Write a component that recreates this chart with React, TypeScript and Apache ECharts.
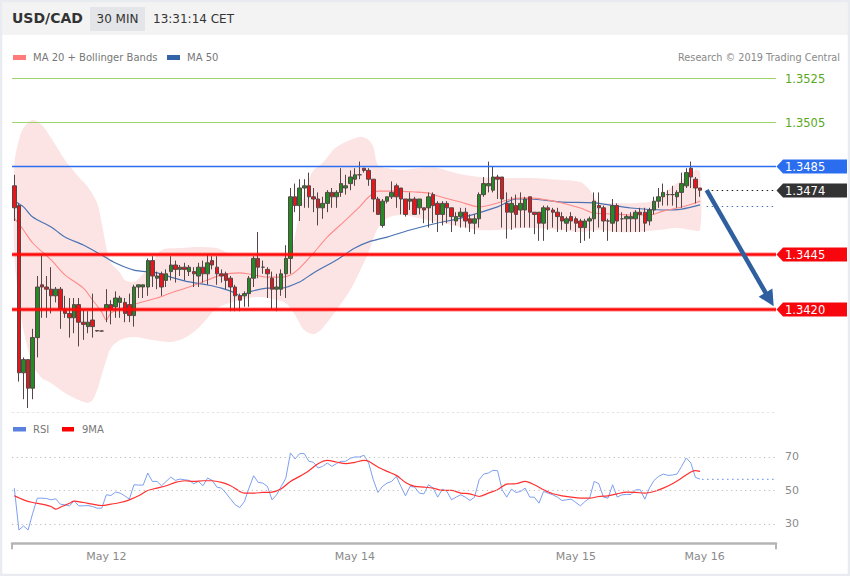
import React, { useEffect, useRef } from "react";
import * as echarts from "echarts";

const FONT = '"DejaVu Sans", Verdana, sans-serif';
const SLOTS = 166;
const slotNames = Array.from({ length: SLOTS }, (_, i) => String(i));
const dateLabels: [number, string][] = [
  [20, "May 12"],
  [74, "May 14"],
  [122, "May 15"],
  [150, "May 16"],
];

const priceMin = 1.3373;
const priceMax = 1.3529;

// candles: [open, close, low, high]
const candlesA = [
  [1.3476, 1.3466, 1.346, 1.3481], [1.3467, 1.3391, 1.3387, 1.3468], [1.3391, 1.3397, 1.3379, 1.3398],
  [1.3397, 1.3384, 1.3375, 1.3397], [1.3384, 1.3407, 1.3379, 1.3411], [1.3407, 1.343, 1.3398, 1.3435],
  [1.3431, 1.343, 1.3416, 1.3445], [1.343, 1.3429, 1.3416, 1.3435], [1.3429, 1.3426, 1.3418, 1.3439],
  [1.3426, 1.3429, 1.3423, 1.343], [1.3429, 1.342, 1.3411, 1.343], [1.342, 1.3418, 1.3416, 1.3426],
  [1.3418, 1.3416, 1.3407, 1.3425], [1.3416, 1.3422, 1.3409, 1.3425], [1.3422, 1.3414, 1.3403, 1.3425],
  [1.3414, 1.3413, 1.3406, 1.342], [1.3412, 1.3414, 1.3409, 1.3419], [1.3415, 1.3412, 1.3407, 1.3427],
  [1.34102, 1.341, 1.34098, 1.34104], [1.341, 1.341, 1.34098, 1.34102], [1.342, 1.3422, 1.3414, 1.3429],
  [1.3422, 1.342, 1.3413, 1.3424], [1.3421, 1.3425, 1.3416, 1.3428], [1.3423, 1.3425, 1.3416, 1.3426],
  [1.3423, 1.3418, 1.3414, 1.3425], [1.3422, 1.3417, 1.3414, 1.3427], [1.3417, 1.343, 1.3412, 1.3431],
  [1.343, 1.3431, 1.3425, 1.3431], [1.343, 1.3431, 1.3425, 1.3431], [1.343, 1.3442, 1.3426, 1.3443],
  [1.3442, 1.3435, 1.343, 1.3444], [1.3434, 1.3435, 1.3429, 1.3437], [1.3436, 1.343, 1.3426, 1.3437],
  [1.3433, 1.3436, 1.343, 1.3438], [1.3437, 1.344, 1.3433, 1.3444], [1.344, 1.3438, 1.3432, 1.3442],
  [1.3438, 1.3439, 1.3435, 1.344], [1.3439, 1.3438, 1.3433, 1.3441], [1.3437, 1.3439, 1.3435, 1.344],
  [1.3437, 1.3436, 1.343, 1.3439], [1.3435, 1.3439, 1.343, 1.3441], [1.3439, 1.3436, 1.3432, 1.3442],
  [1.3436, 1.3441, 1.3431, 1.3445], [1.3442, 1.344, 1.3438, 1.3444], [1.3439, 1.3436, 1.3431, 1.3444],
  [1.3436, 1.3435, 1.3432, 1.3438], [1.3436, 1.3433, 1.3429, 1.3437], [1.3434, 1.343, 1.3419, 1.3435],
  [1.343, 1.3426, 1.3419, 1.3431], [1.3426, 1.3424, 1.3419, 1.3427],
];
const candlesB = [
  [1.3426, 1.3427, 1.3421, 1.3428], [1.3427, 1.3434, 1.3421, 1.3435], [1.3434, 1.3443, 1.343, 1.3444],
  [1.3443, 1.3439, 1.3434, 1.3455], [1.3439, 1.3439, 1.3436, 1.3442], [1.3438, 1.3436, 1.3425, 1.3439],
  [1.3434, 1.3429, 1.342, 1.3437], [1.3429, 1.343, 1.3419, 1.3436], [1.3429, 1.3436, 1.3426, 1.3438],
  [1.3436, 1.3443, 1.3425, 1.3449], [1.3443, 1.3471, 1.3436, 1.3475], [1.3471, 1.3467, 1.3464, 1.3477],
  [1.3467, 1.3475, 1.346, 1.3479], [1.3475, 1.3476, 1.3466, 1.3479], [1.3476, 1.3471, 1.3466, 1.3482],
  [1.3471, 1.347, 1.3464, 1.3475], [1.347, 1.3466, 1.3458, 1.3473], [1.3466, 1.3468, 1.3461, 1.3471],
  [1.3468, 1.3473, 1.3464, 1.3474], [1.3473, 1.3471, 1.3466, 1.3475], [1.3471, 1.3473, 1.3466, 1.3474],
  [1.3473, 1.3477, 1.3471, 1.3484], [1.3475, 1.3476, 1.3472, 1.3481], [1.3477, 1.348, 1.3474, 1.3483],
  [1.3479, 1.3481, 1.3476, 1.3484], [1.3481, 1.3481, 1.3479, 1.3487], [1.3484, 1.3483, 1.3482, 1.3484],
  [1.3483, 1.3479, 1.3476, 1.3484], [1.3479, 1.347, 1.3464, 1.3479], [1.347, 1.3463, 1.3463, 1.3471],
  [1.3458, 1.3469, 1.3457, 1.347], [1.3469, 1.3471, 1.3468, 1.3471], [1.3471, 1.3473, 1.347, 1.3478],
  [1.3476, 1.3471, 1.3466, 1.3477], [1.3475, 1.347, 1.3463, 1.3475], [1.347, 1.3463, 1.3462, 1.347],
  [1.3469, 1.347, 1.3465, 1.3473], [1.347, 1.3463, 1.3463, 1.3471], [1.3466, 1.347, 1.3463, 1.347],
  [1.3466, 1.3465, 1.3459, 1.3466], [1.3466, 1.3471, 1.3457, 1.3473], [1.3472, 1.3467, 1.3459, 1.3473],
  [1.3468, 1.3463, 1.3455, 1.3469], [1.3463, 1.3468, 1.3458, 1.3469], [1.3468, 1.3466, 1.3459, 1.3469],
  [1.3466, 1.3462, 1.3455, 1.3466], [1.346, 1.3462, 1.3458, 1.3464], [1.3462, 1.3464, 1.3457, 1.3466],
  [1.3464, 1.346, 1.3457, 1.3466], [1.3461, 1.3459, 1.3455, 1.3463],
];
const candlesC = [
  [1.3459, 1.3461, 1.3454, 1.3463], [1.3461, 1.3472, 1.3457, 1.3473], [1.3472, 1.3477, 1.3471, 1.348],
  [1.3476, 1.3477, 1.3473, 1.3487], [1.3474, 1.348, 1.3473, 1.3485], [1.348, 1.3479, 1.347, 1.3481],
  [1.348, 1.347, 1.3457, 1.348], [1.3468, 1.3464, 1.3452, 1.3473], [1.3464, 1.3468, 1.3456, 1.3471],
  [1.3467, 1.3463, 1.3457, 1.3472], [1.3465, 1.3468, 1.3457, 1.3473], [1.3465, 1.347, 1.3457, 1.3471],
  [1.3471, 1.3464, 1.3457, 1.3471], [1.3464, 1.3463, 1.3454, 1.3464], [1.3464, 1.3459, 1.3451, 1.3464],
  [1.3459, 1.3466, 1.3451, 1.3467], [1.3466, 1.3465, 1.3456, 1.3467], [1.3465, 1.3464, 1.3457, 1.3466],
  [1.3464, 1.3462, 1.3455, 1.3466], [1.3462, 1.346, 1.3456, 1.3464], [1.3459, 1.3461, 1.3455, 1.3462],
  [1.3462, 1.346, 1.3456, 1.3464], [1.3461, 1.3459, 1.3455, 1.3462], [1.346, 1.3457, 1.345, 1.3461],
  [1.3457, 1.346, 1.3451, 1.3461], [1.346, 1.3461, 1.3452, 1.3462], [1.3461, 1.3469, 1.3455, 1.3473],
  [1.3467, 1.3466, 1.3457, 1.3473], [1.3466, 1.346, 1.3455, 1.3467], [1.346, 1.346, 1.3451, 1.3461],
  [1.3459, 1.3467, 1.3455, 1.347], [1.3467, 1.346, 1.3455, 1.3468], [1.3461, 1.3461, 1.3455, 1.3464],
  [1.3461, 1.3462, 1.3455, 1.3463], [1.3461, 1.3462, 1.3455, 1.3464], [1.3461, 1.3464, 1.3455, 1.3465],
  [1.3464, 1.3463, 1.3455, 1.3466], [1.3464, 1.3459, 1.3455, 1.3466], [1.346, 1.3465, 1.3458, 1.3466],
  [1.3465, 1.3469, 1.3463, 1.3471], [1.3469, 1.3471, 1.3466, 1.3475], [1.3471, 1.3473, 1.3467, 1.3477],
  [1.3472, 1.3472, 1.3467, 1.3474], [1.3472, 1.3472, 1.3467, 1.3476], [1.3471, 1.3473, 1.3466, 1.3474],
  [1.3473, 1.3477, 1.3466, 1.3482], [1.3476, 1.3482, 1.3475, 1.3484], [1.3484, 1.348, 1.3475, 1.3487],
  [1.3479, 1.3475, 1.3468, 1.348], [1.3475, 1.3474, 1.3471, 1.3475],
];

// indicator readings [slot, value]
const ma20Points = [
  [0, 1.34613], [2, 1.34559], [4, 1.345], [8, 1.34423], [11, 1.34355], [15, 1.34295], [17, 1.34241],
  [19, 1.34186], [20, 1.3415], [21, 1.34182], [24, 1.34209], [27, 1.34227], [31, 1.3425], [34, 1.34273],
  [38, 1.343], [42, 1.34332], [45, 1.34355], [49, 1.34364], [51, 1.34359], [55, 1.34345], [58, 1.34345],
  [60, 1.34355], [62, 1.34386], [65, 1.34454], [68, 1.34527], [72, 1.34604], [75, 1.34664], [77, 1.34709],
  [79, 1.34736], [83, 1.34736], [87, 1.34732], [90, 1.34727], [92, 1.34714], [97, 1.34686], [101, 1.34664],
  [105, 1.34682], [108, 1.347], [112, 1.34705], [116, 1.34695], [119, 1.34682], [123, 1.34659],
  [126, 1.34636], [130, 1.34632], [134, 1.34627], [138, 1.34627], [141, 1.34645], [145, 1.34664],
  [148, 1.34682], [149, 1.34691],
];
const ma50Points = [
  [0, 1.34691], [2, 1.34664], [4, 1.34618], [8, 1.34573], [11, 1.34527], [15, 1.34491], [19, 1.34445],
  [22, 1.34409], [26, 1.34377], [31, 1.34364], [34, 1.34345], [38, 1.34323], [42, 1.34309], [45, 1.34295],
  [48, 1.34273], [49, 1.34259], [51, 1.34277], [55, 1.34295], [58, 1.34295], [62, 1.34323], [65, 1.34364],
  [70, 1.34423], [74, 1.34477], [77, 1.34505], [81, 1.34527], [86, 1.34559], [92, 1.34591], [97, 1.34613],
  [105, 1.34664], [109, 1.347], [112, 1.347], [119, 1.34686], [126, 1.34682], [134, 1.34659],
  [141, 1.3465], [145, 1.34654], [149, 1.34673],
];
const bandUpper = [
  [0, 1.34855], [1, 1.34968], [2, 1.35023], [4, 1.35059], [6, 1.35036], [8, 1.34977], [11, 1.34877],
  [14, 1.348], [16, 1.34755], [18, 1.34682], [19, 1.34591], [20, 1.34481], [21, 1.34409], [23, 1.34364],
  [24, 1.34332], [26, 1.34323], [28, 1.34359], [30, 1.34413], [32, 1.34468], [36, 1.34477], [40, 1.34482],
  [44, 1.34477], [46, 1.34459], [49, 1.34441], [53, 1.34445], [58, 1.34445], [60, 1.34454], [61, 1.34536],
  [62, 1.34645], [63, 1.34718], [64, 1.34786], [65, 1.34832], [67, 1.34864], [70, 1.34936], [75, 1.34982],
  [77, 1.34968], [78, 1.34936], [79, 1.34855], [81, 1.34841], [84, 1.34832], [88, 1.34841], [92, 1.34841],
  [95, 1.34823], [98, 1.34809], [101, 1.348], [105, 1.34795], [112, 1.34795], [119, 1.34786],
  [123, 1.34777], [125, 1.34741], [127, 1.34686], [131, 1.34682], [135, 1.34682], [140, 1.34695],
  [142, 1.34741], [146, 1.348], [148, 1.34832], [149, 1.34823],
];
const bandLower = [
  [0, 1.34445], [1, 1.34241], [2, 1.34104], [4, 1.33945], [6, 1.33886], [8, 1.33864], [11, 1.33818],
  [14, 1.33786], [16, 1.33773], [17, 1.33786], [18, 1.33832], [19, 1.339], [20, 1.33968], [21, 1.34023],
  [23, 1.34059], [26, 1.34073], [30, 1.34059], [34, 1.3405], [37, 1.34068], [40, 1.34114], [42, 1.34159],
  [44, 1.34204], [49, 1.34241], [53, 1.34255], [57, 1.34241], [59, 1.34227], [61, 1.34173], [63, 1.34104],
  [65, 1.34086], [67, 1.34114], [70, 1.34195], [73, 1.34286], [75, 1.34368], [77, 1.34459], [79, 1.34568],
  [81, 1.34613], [84, 1.34627], [88, 1.34613], [92, 1.34595], [97, 1.34573], [101, 1.34559],
  [105, 1.34559], [112, 1.34568], [119, 1.34559], [123, 1.3455], [127, 1.34559], [131, 1.3455],
  [135, 1.3455], [140, 1.34559], [144, 1.34568], [147, 1.34559], [149, 1.34559],
];

// horizontal levels
const levelPrices = [1.3525, 1.3505, 1.3485, 1.3474, 1.3445, 1.342, 1.34668];
const levelKinds = ["target", "target", "resist", "last", "pivot", "pivot", "ma"];
const levelStart = [0, 0, 0, 150, 0, 0, 150];

const arrowStart = [150, 1.3474];
const arrowEnd = [165, 1.34212];

// RSI panel
const rsiValues = [
  51.4, 26.4, 28.8, 26.4, 36.4, 45.4, 45.4, 45.2, 44.4, 45.0, 41.8, 41.4, 40.8, 43.8, 40.8, 40.8, 41.0, 40.4,
  39.4, 39.4, 47.4, 47.0, 49.0, 48.4, 46.8, 44.8, 53.4, 53.2, 53.2, 60.4, 55.4, 55.4, 52.8, 55.4, 58.0, 56.0,
  56.8, 56.4, 56.0, 54.0, 55.4, 52.8, 57.4, 56.0, 52.0, 51.4, 48.4, 44.8, 41.4, 39.8, 43.4, 51.4, 58.8, 54.8,
  54.4, 52.4, 44.4, 47.4, 52.4, 57.4, 72.4, 68.8, 72.0, 72.0, 67.4, 66.8, 63.4, 64.4, 66.4, 64.4, 66.0, 67.4,
  67.4, 69.2, 70.0, 70.0, 71.0, 66.4, 56.4, 48.8, 52.4, 54.4, 55.4, 58.4, 52.4, 46.8, 52.4, 52.0, 48.4, 48.0,
  53.4, 51.4, 46.0, 50.8, 49.4, 44.4, 46.0, 47.4, 46.0, 44.0, 46.0, 56.4, 59.8, 60.4, 62.0, 61.8, 50.4, 46.0,
  50.8, 48.8, 49.4, 51.4, 46.0, 46.0, 42.4, 49.4, 48.4, 47.4, 46.0, 44.0, 44.4, 44.8, 42.8, 40.8, 43.4, 45.4,
  55.4, 54.0, 46.0, 45.4, 53.4, 46.0, 47.4, 47.6, 47.6, 50.4, 50.4, 44.8, 51.4, 56.0, 58.4, 59.8, 59.0, 59.2,
  59.8, 64.4, 69.4, 66.4, 57.8, 56.8,
];
const rsiMaPoints = [
  [0, 46.8], [2, 44.4], [4, 42.8], [6, 41.8], [8, 40.4], [9, 38.8], [10, 40], [12, 42.4], [13, 43.6], [15, 42.8],
  [17, 41.8], [19, 41], [21, 41.8], [23, 42.8], [25, 44.4], [27, 46.8], [29, 50], [31, 51.4], [33, 52.8],
  [35, 54.8], [37, 55.8], [39, 55.4], [41, 55.8], [43, 55.8], [45, 54.8], [47, 52.8], [49, 49.4], [50, 48.4],
  [52, 48.4], [54, 48.8], [56, 49], [58, 51], [60, 55.4], [62, 58.4], [64, 61.8], [66, 66], [68, 68], [70, 67],
  [72, 66], [74, 66.8], [76, 68], [77, 67.4], [79, 64], [81, 61.4], [83, 59], [85, 54.8], [87, 52.4], [89, 52],
  [91, 51.4], [93, 50], [95, 50], [97, 48.4], [99, 48], [101, 46.4], [103, 48.4], [105, 50.4], [107, 53.8],
  [109, 54], [111, 55.4], [113, 53.4], [115, 50.4], [117, 48], [119, 46.8], [121, 46], [123, 45.4], [125, 45.4],
  [127, 46.4], [129, 46.8], [131, 48], [133, 49], [135, 48.8], [137, 48.4], [139, 49.4], [141, 51.4], [143, 54],
  [145, 57.4], [147, 61], [148, 61.8], [149, 61.4],
];
const rsiLevels = [30, 50, 70];
const rsiTail = [149, 56.6];

const sparse = (pts: number[][]) => {
  const a: (number | null)[] = new Array(SLOTS).fill(null);
  pts.forEach(([i, v]) => {
    a[i] = v;
  });
  return a;
};

const labelMap = new Map<number, string>(dateLabels);

function buildOption() {
  const candles = [...candlesA, ...candlesB, ...candlesC];
  return {
    animation: false,
    backgroundColor: "#ffffff",
    textStyle: { fontFamily: FONT },
    grid: [
      { left: 12, top: 69.2, width: 764, height: 343.2 },
      { left: 12, top: 437.7, width: 764, height: 105.5 },
    ],
    xAxis: [
      {
        type: "category",
        gridIndex: 0,
        data: slotNames,
        boundaryGap: true,
        axisLabel: { show: false },
        axisTick: { show: false },
        axisLine: { show: true, lineStyle: { color: "#e6e6e6", type: [2, 3] } },
        splitLine: { show: false },
      },
      {
        type: "category",
        gridIndex: 1,
        data: slotNames,
        boundaryGap: true,
        axisTick: { show: false },
        axisLine: { show: true, lineStyle: { color: "#b5b5b5", width: 2.5 } },
        axisLabel: {
          interval: (i: number) => labelMap.has(i),
          formatter: (v: string) => labelMap.get(Number(v)) ?? "",
          color: "#8a8a8a",
          fontSize: 11,
          margin: 8,
          fontFamily: FONT,
        },
        splitLine: { show: false },
      },
    ],
    yAxis: [
      { type: "value", gridIndex: 0, min: priceMin, max: priceMax, show: false },
      { type: "value", gridIndex: 1, min: 18.5, max: 81.5, show: false },
    ],
    graphic: [
      { type: "rect", shape: { x: 0, y: 0, width: 850, height: 35 }, style: { fill: "#f3f3f3" }, silent: true },
      {
        type: "rect",
        shape: { x: 1, y: 1, width: 848, height: 574 },
        style: { fill: "none", stroke: "#e8ecf0", lineWidth: 2.5 },
        silent: true,
      },
      {
        type: "text",
        x: 12,
        y: 18,
        style: { text: "USD/CAD", fill: "#333333", fontSize: 14, fontWeight: "bold", fontFamily: FONT, verticalAlign: "middle" },
      },
      { type: "rect", shape: { x: 90, y: 7, width: 55, height: 24 }, style: { fill: "#e3e5e8" } },
      {
        type: "text",
        x: 117.5,
        y: 19,
        style: { text: "30 MIN", fill: "#333333", fontSize: 12, fontFamily: FONT, align: "center", verticalAlign: "middle" },
      },
      {
        type: "text",
        x: 153,
        y: 19,
        style: { text: "13:31:14 CET", fill: "#333333", fontSize: 12, fontFamily: FONT, verticalAlign: "middle" },
      },
      { type: "rect", shape: { x: 13, y: 55, width: 13, height: 5 }, style: { fill: "#ff7b7b" } },
      {
        type: "text",
        x: 33,
        y: 57.5,
        style: { text: "MA 20 + Bollinger Bands", fill: "#777777", fontSize: 10, fontFamily: FONT, verticalAlign: "middle" },
      },
      { type: "rect", shape: { x: 167, y: 55, width: 13, height: 5 }, style: { fill: "#3464a8" } },
      {
        type: "text",
        x: 187,
        y: 57.5,
        style: { text: "MA 50", fill: "#777777", fontSize: 10, fontFamily: FONT, verticalAlign: "middle" },
      },
      {
        type: "text",
        x: 840,
        y: 57.5,
        style: {
          text: "Research © 2019 Trading Central",
          fill: "#888888",
          fontSize: 9.7,
          fontFamily: FONT,
          align: "right",
          verticalAlign: "middle",
        },
      },
      { type: "rect", shape: { x: 13, y: 427, width: 13, height: 4.5 }, style: { fill: "#5b80e0" } },
      {
        type: "text",
        x: 33,
        y: 429,
        style: { text: "RSI", fill: "#777777", fontSize: 10, fontFamily: FONT, verticalAlign: "middle" },
      },
      { type: "rect", shape: { x: 62, y: 427, width: 12, height: 4.5 }, style: { fill: "#ff0000" } },
      {
        type: "text",
        x: 82,
        y: 429,
        style: { text: "9MA", fill: "#777777", fontSize: 10, fontFamily: FONT, verticalAlign: "middle" },
      },
    ],
    series: [
      {
        type: "custom",
        name: "band",
        xAxisIndex: 0,
        yAxisIndex: 0,
        z: 1,
        silent: true,
        data: [[0, priceMin]],
        encode: { x: 0, y: 1 },
        renderItem: (params: any, api: any) => {
          const up = bandUpper.map(([i, v]) => api.coord([i, v]));
          const lo = bandLower.map(([i, v]) => api.coord([i, v])).reverse();
          return {
            type: "polygon",
            shape: { points: up.concat(lo), smooth: 0.3 },
            style: { fill: "#fde4e4" },
          };
        },
      },
      {
        type: "line",
        name: "MA 50",
        xAxisIndex: 0,
        yAxisIndex: 0,
        z: 2,
        data: sparse(ma50Points),
        connectNulls: true,
        smooth: 0.3,
        showSymbol: false,
        silent: true,
        lineStyle: { color: "#4a73b3", width: 1.2 },
      },
      {
        type: "line",
        name: "MA 20",
        xAxisIndex: 0,
        yAxisIndex: 0,
        z: 2,
        data: sparse(ma20Points),
        connectNulls: true,
        smooth: 0.3,
        showSymbol: false,
        silent: true,
        lineStyle: { color: "#ff8a8a", width: 1.1 },
      },
      {
        type: "candlestick",
        name: "USD/CAD",
        xAxisIndex: 0,
        yAxisIndex: 0,
        z: 3,
        barWidth: 4,
        data: candles,
        itemStyle: {
          color: "#248a24",
          color0: "#ec1419",
          borderColor: "#544646",
          borderColor0: "#544646",
          borderWidth: 1,
        },
      },
      {
        type: "custom",
        name: "levels",
        xAxisIndex: 0,
        yAxisIndex: 0,
        z: 4,
        clip: false,
        silent: true,
        data: levelPrices.map((v, k) => [levelStart[k], v, k]),
        encode: { x: 0, y: 1 },
        renderItem: (params: any, api: any) => {
          const cs = params.coordSys;
          const k = api.value(2);
          const v = api.value(1);
          const kind = levelKinds[k];
          const pt = api.coord([api.value(0), v]);
          const y = Math.round(pt[1]) + 0.5;
          const xR = cs.x + cs.width;
          const xL = cs.x;
          const ch: any[] = [];
          const box = (color: string) => {
            ch.push({
              type: "polygon",
              shape: {
                points: [
                  [xR + 0.5, y],
                  [xR + 7, y - 7],
                  [xR + 71, y - 7],
                  [xR + 71, y + 7],
                  [xR + 7, y + 7],
                ],
              },
              style: { fill: color },
            });
            ch.push({
              type: "text",
              x: xR + 9,
              y: y + 0.5,
              style: { text: v.toFixed(4), fill: "#ffffff", fontSize: 11.5, fontFamily: FONT, verticalAlign: "middle" },
            });
          };
          if (kind === "target") {
            ch.push({ type: "line", shape: { x1: xL, y1: y, x2: xR, y2: y }, style: { stroke: "#9ed36c", lineWidth: 1 } });
            ch.push({
              type: "text",
              x: xR + 9,
              y: y + 0.5,
              style: { text: v.toFixed(4), fill: "#58a81c", fontSize: 11.5, fontFamily: FONT, verticalAlign: "middle" },
            });
          } else if (kind === "resist") {
            ch.push({ type: "line", shape: { x1: xL, y1: y, x2: xR, y2: y }, style: { stroke: "#2d6ef0", lineWidth: 1.4 } });
            box("#2b6def");
          } else if (kind === "pivot") {
            ch.push({ type: "line", shape: { x1: xL, y1: y, x2: xR, y2: y }, style: { stroke: "rgba(255,0,0,0.25)", lineWidth: 5 } });
            ch.push({ type: "line", shape: { x1: xL, y1: y, x2: xR, y2: y }, style: { stroke: "#ff0a0a", lineWidth: 2.4 } });
            box("#f7060d");
          } else if (kind === "last") {
            ch.push({
              type: "line",
              shape: { x1: pt[0] + 2, y1: y, x2: xR, y2: y },
              style: { stroke: "#222222", lineWidth: 1.2, lineDash: [1.5, 3.5] },
            });
            box("#333333");
          } else {
            ch.push({
              type: "line",
              shape: { x1: pt[0] + 2, y1: y, x2: xR, y2: y },
              style: { stroke: "#4a73b3", lineWidth: 1.2, lineDash: [1.5, 3.5] },
            });
          }
          return { type: "group", children: ch };
        },
      },
      {
        type: "custom",
        name: "arrow",
        xAxisIndex: 0,
        yAxisIndex: 0,
        z: 5,
        clip: false,
        silent: true,
        data: [[arrowStart[0], arrowStart[1], arrowEnd[0], arrowEnd[1]]],
        encode: { x: [0, 2], y: [1, 3] },
        renderItem: (params: any, api: any) => {
          const a = api.coord([api.value(0), api.value(1)]);
          const b = api.coord([api.value(2), api.value(3)]);
          const dx = b[0] - a[0];
          const dy = b[1] - a[1];
          const len = Math.hypot(dx, dy);
          const ux = dx / len;
          const uy = dy / len;
          const nx = -uy;
          const ny = ux;
          const hl = 16;
          const hw = 8;
          const bx = b[0] - ux * hl;
          const by = b[1] - uy * hl;
          const col = "#2f5f9e";
          return {
            type: "group",
            children: [
              {
                type: "line",
                shape: { x1: a[0] + 2, y1: a[1], x2: bx + ux * 2, y2: by + uy * 2 },
                style: { stroke: col, lineWidth: 4.5 },
              },
              {
                type: "polygon",
                shape: { points: [[b[0], b[1]], [bx + nx * hw, by + ny * hw], [bx - nx * hw, by - ny * hw]] },
                style: { fill: col },
              },
            ],
          };
        },
      },
      {
        type: "line",
        name: "RSI",
        xAxisIndex: 1,
        yAxisIndex: 1,
        z: 3,
        data: rsiValues,
        showSymbol: false,
        silent: true,
        lineStyle: { color: "#7d9ff0", width: 1 },
        markLine: {
          silent: true,
          symbol: ["none", "none"],
          lineStyle: { color: "#bdbdbd", width: 1, type: [1.2, 3.5] },
          label: {
            show: true,
            position: "end",
            distance: 9,
            color: "#8a8a8a",
            fontSize: 11,
            fontFamily: FONT,
            formatter: (p: any) => String(p.value),
          },
          emphasis: { disabled: true },
          data: rsiLevels.map((v) => ({ yAxis: v })),
        },
      },
      {
        type: "line",
        name: "9MA",
        xAxisIndex: 1,
        yAxisIndex: 1,
        z: 4,
        data: sparse(rsiMaPoints),
        connectNulls: true,
        smooth: 0.3,
        showSymbol: false,
        silent: true,
        lineStyle: { color: "#ff3030", width: 1.2 },
      },
      {
        type: "custom",
        name: "rsiTail",
        xAxisIndex: 1,
        yAxisIndex: 1,
        z: 4,
        clip: false,
        silent: true,
        data: [rsiTail],
        encode: { x: 0, y: 1 },
        renderItem: (params: any, api: any) => {
          const cs = params.coordSys;
          const p = api.coord([api.value(0), api.value(1)]);
          const yb = cs.y + cs.height;
          return {
            type: "group",
            children: [
              {
                type: "line",
                shape: { x1: p[0] + 2, y1: p[1], x2: cs.x + cs.width, y2: p[1] },
                style: { stroke: "#7d9ff0", lineWidth: 1.2, lineDash: [1.5, 3.5] },
              },
              { type: "line", shape: { x1: cs.x, y1: yb, x2: cs.x, y2: yb + 6 }, style: { stroke: "#b5b5b5", lineWidth: 2 } },
              {
                type: "line",
                shape: { x1: cs.x + cs.width, y1: yb, x2: cs.x + cs.width, y2: yb + 6 },
                style: { stroke: "#b5b5b5", lineWidth: 2 },
              },
            ],
          };
        },
      },
    ],
  };
}

export default function App() {
  const ref = useRef<HTMLDivElement>(null);
  useEffect(() => {
    if (!ref.current) return;
    const chart = echarts.init(ref.current, null, { renderer: "svg" });
    chart.setOption(buildOption() as any);
    return () => chart.dispose();
  }, []);
  return (
    <div
      ref={ref}
      style={{ position: "absolute", left: 0, top: 0, width: 850, height: 576, background: "#ffffff" }}
    />
  );
}
